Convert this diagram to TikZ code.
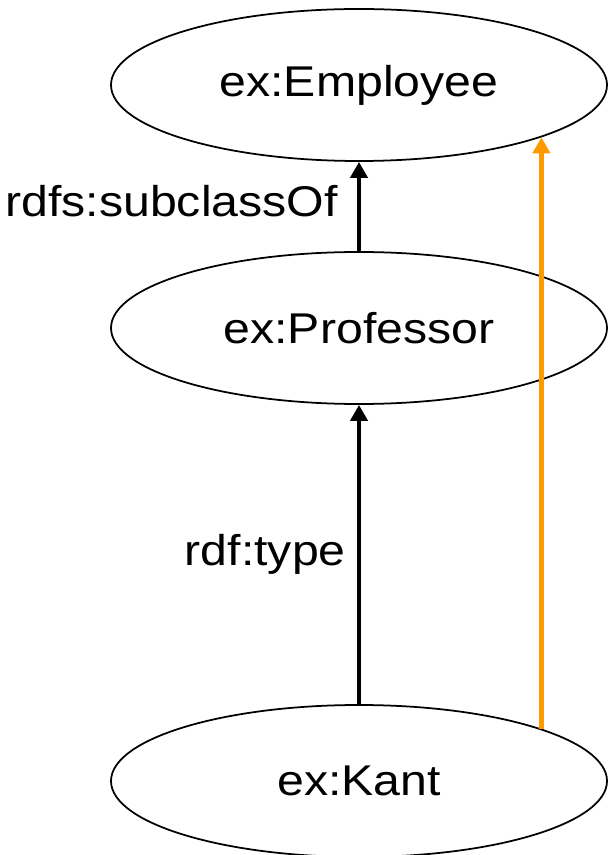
\documentclass[tikz,border=0pt]{standalone}
\usepackage{fontspec}
\setmainfont{Liberation Sans}
\usepackage{tikz}
\usepackage{xcolor}
\usetikzlibrary{shapes.geometric,arrows.meta}
\definecolor{inferred}{RGB}{255,153,0}
\newcommand{\widetext}[1]{\scalebox{1.12}[1]{#1}}

\begin{document}
\begin{tikzpicture}[
		cls/.style={ellipse, draw, line width=1pt, minimum width=9.92cm, minimum height=3.04cm, inner sep=0pt, font=\fontsize{24.5}{28}\selectfont},
		rel/.style={line width=2.6pt, -{Triangle[length=0.32cm,width=0.34cm]}},
		lbl/.style={inner sep=0pt, font=\fontsize{24.5}{28}\selectfont}]
		      		\useasboundingbox (0,0) rectangle (12.16,-17.1);

		      		\node[cls] (employee) at (7.18,-1.70) {\widetext{ex:Employee}};
		      		\node[cls] (professor) at (7.18,-6.56) {\widetext{ex:Professor}};
		      		\node[cls] (kant) at (7.18,-15.62) {\widetext{ex:Kant}};

		      		\draw[rel] (professor) -- (employee) node[lbl, midway, left=0.38cm, yshift=0.1cm] {\widetext{rdfs:subclassOf}};
		      		\draw[rel] (kant) -- (professor) node[lbl, midway, left=0.22cm] {\widetext{rdf:type}};

		      		\draw[rel, inferred, line width=2.4pt] (kant.16.6) -- (employee.-16.6);
		      	\end{tikzpicture}
\end{document}
